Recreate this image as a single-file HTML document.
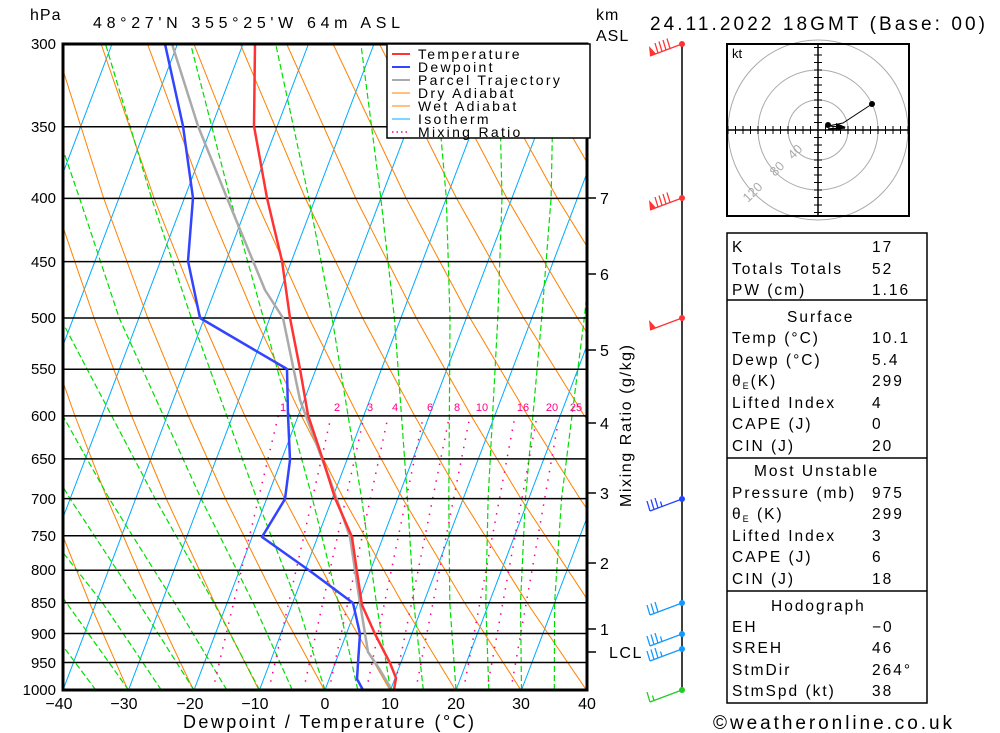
<!DOCTYPE html>
<html><head><meta charset="utf-8">
<style>
html,body{margin:0;padding:0;background:#fff;}
svg{display:block;font-family:"Liberation Sans",sans-serif;}
</style></head>
<body>
<svg width="1000" height="733" viewBox="0 0 1000 733" xmlns="http://www.w3.org/2000/svg">
<defs><clipPath id="c"><rect x="63" y="44" width="524" height="646"/></clipPath></defs>
<rect width="1000" height="733" fill="#fff"/>
<g clip-path="url(#c)" fill="none">
<g stroke="#00aaff" stroke-width="1">
<line x1="-133.5" y1="690" x2="112" y2="44"/>
<line x1="-68" y1="690" x2="177.5" y2="44"/>
<line x1="-2.5" y1="690" x2="243" y2="44"/>
<line x1="63" y1="690" x2="308.5" y2="44"/>
<line x1="128.5" y1="690" x2="374" y2="44"/>
<line x1="194" y1="690" x2="439.5" y2="44"/>
<line x1="259.5" y1="690" x2="505" y2="44"/>
<line x1="325" y1="690" x2="570.5" y2="44"/>
<line x1="390.5" y1="690" x2="636" y2="44"/>
<line x1="456" y1="690" x2="701.5" y2="44"/>
<line x1="521.5" y1="690" x2="767" y2="44"/>
</g>
<g stroke="#ff8000" stroke-width="1" transform="translate(20,0)">
<polyline points="42.4,690 7.1,603 -31,499"/>
<polyline points="107.9,690 69.6,603 28.1,499 -1.5,416"/>
<polyline points="173.4,690 132.2,603 87.3,499 55,416 20.4,318 -17.2,198"/>
<polyline points="238.9,690 194.7,603 146.4,499 111.6,416 74.1,318 33.1,198 -11.7,44"/>
<polyline points="304.4,690 257.2,603 205.6,499 168.3,416 127.8,318 83.6,198 34.7,44"/>
<polyline points="369.9,690 319.7,603 264.7,499 224.9,416 181.5,318 134,198 81.1,44"/>
<polyline points="435.4,690 382.2,603 323.8,499 281.5,416 235.2,318 184.4,198 127.5,44"/>
<polyline points="500.9,690 444.7,603 382.9,499 338.1,416 288.9,318 234.8,198 173.9,44"/>
<polyline points="566.4,690 507.2,603 442,499 394.7,416 342.6,318 285.2,198 220.3,44"/>
<polyline points="631.9,690 569.7,603 501.1,499 451.3,416 396.3,318 335.6,198 266.7,44"/>
<polyline points="697.4,690 632.2,603 560.2,499 507.9,416 450,318 386,198 313.1,44"/>
<polyline points="762.9,690 694.7,603 619.3,499 564.5,416 503.7,318 436.4,198 359.5,44"/>
<polyline points="757,603 678.4,499 621.1,416 557.4,318 486.8,198 405.9,44"/>
<polyline points="737.5,499 677.7,416 611.1,318 537.2,198 452.3,44"/>
<polyline points="734,416 664.8,318 587.6,198 498.7,44"/>
<polyline points="718.5,318 638,198 545.1,44"/>
<polyline points="688.4,198 591.5,44"/>
<polyline points="738.8,198 638,44"/>
</g>
<g stroke="#00dd00" stroke-width="1.2" stroke-dasharray="6,3">
<polyline points="554.3,690 554.6,603 561.5,499 584.3,318 597,198 603,44"/>
<polyline points="521.5,690 520.5,603 525.4,499 541.7,318 551.1,198 554.1,44"/>
<polyline points="488.8,690 485.8,603 488.1,499 497.8,318 502,198 498.5,44"/>
<polyline points="456,690 449.8,603 448.8,499 450,318 446.3,198 432.9,44"/>
<polyline points="423.3,690 413.8,603 407.5,499 394.4,318 380.8,198 360.9,44"/>
<polyline points="390.5,690 376.4,603 361.7,499 332.1,318 308.8,198 275.7,44"/>
<polyline points="357.8,690 338.4,603 312.5,499 263.4,318 230.1,198 190.6,44"/>
<polyline points="325,690 297.2,603 256.9,499 191.3,318 151.5,198 105.5,44"/>
<polyline points="292.3,690 253.3,603 201.2,499 119.2,318 79.5,198 26.8,44"/>
<polyline points="259.5,690 214,603 155.3,499 60.3,318"/>
<polyline points="226.8,690 174.7,603 109.5,499 7.9,318"/>
<polyline points="194,690 138.7,603 70.2,499 -37.6,318"/>
<polyline points="161.3,690 102.6,603 21,499"/>
<polyline points="128.5,690 66.6,603 -8,499"/>
<polyline points="95.8,690 30.6,603"/>
</g>
<g stroke="#ff0088" stroke-width="1.5" stroke-dasharray="1.5,7">
<line x1="212.8" y1="690" x2="278.2" y2="416"/>
<line x1="268.8" y1="690" x2="331.2" y2="416"/>
<line x1="303.5" y1="690" x2="364.1" y2="416"/>
<line x1="329" y1="690" x2="388.2" y2="416"/>
<line x1="366.4" y1="690" x2="423.4" y2="416"/>
<line x1="393.9" y1="690" x2="449.4" y2="416"/>
<line x1="415.7" y1="690" x2="470" y2="416"/>
<line x1="463.5" y1="690" x2="515" y2="416"/>
<line x1="486.9" y1="690" x2="537" y2="416"/>
<line x1="510.8" y1="690" x2="559.3" y2="416"/>
</g>
</g>
<g font-size="11" fill="#ff0088" text-anchor="middle">
<text x="283" y="411">1</text><text x="337" y="411">2</text><text x="370" y="411">3</text>
<text x="395" y="411">4</text><text x="430" y="411">6</text><text x="457" y="411">8</text>
<text x="482" y="411">10</text><text x="523" y="411">16</text><text x="552" y="411">20</text>
<text x="576" y="411">25</text>
</g>
<g stroke="#000" stroke-width="1.5">
<line x1="63" x2="587" y1="126.7" y2="126.7"/><line x1="63" x2="587" y1="198.4" y2="198.4"/>
<line x1="63" x2="587" y1="261.6" y2="261.6"/><line x1="63" x2="587" y1="318" y2="318"/>
<line x1="63" x2="587" y1="369.3" y2="369.3"/><line x1="63" x2="587" y1="415.9" y2="415.9"/>
<line x1="63" x2="587" y1="458.9" y2="458.9"/><line x1="63" x2="587" y1="498.6" y2="498.6"/>
<line x1="63" x2="587" y1="535.7" y2="535.7"/><line x1="63" x2="587" y1="570.3" y2="570.3"/>
<line x1="63" x2="587" y1="602.8" y2="602.8"/><line x1="63" x2="587" y1="633.5" y2="633.5"/>
<line x1="63" x2="587" y1="662.5" y2="662.5"/>
</g>
<g clip-path="url(#c)" fill="none" stroke-width="2.5" stroke-linejoin="round">
<polyline stroke="#aaaaaa" points="390,687 380,670 368,652 360,603 350,537 330,480 300,400 283,318 265,290 253,261 227,198 198,126 172,44"/>
<polyline stroke="#3344ff" points="363,690 357,679 358,663 360,634 353,603 310,571 262,537 285,499 290,460 288,415 287,369 200,318 188,261 193,198 183,126 165,44"/>
<polyline stroke="#ff3333" points="394,690 396,678 390,663 375,634 362,605 357,572 352,537 335,498 323,460 308,415 300,369 290,318 282,261 267,198 254,126 255,44"/>
</g>
<rect x="63" y="44" width="524" height="646" fill="none" stroke="#000" stroke-width="3"/>
<rect x="387" y="44" width="203" height="94" fill="#fff" stroke="#000" stroke-width="1.5"/>
<g stroke-width="2">
<line x1="392" y1="54" x2="410" y2="54" stroke="#ff3333"/>
<line x1="392" y1="67" x2="410" y2="67" stroke="#3344ff"/>
<line x1="392" y1="80" x2="410" y2="80" stroke="#aaaaaa"/>
<line x1="392" y1="93" x2="410" y2="93" stroke="#ff8000" stroke-width="1"/>
<line x1="392" y1="106" x2="410" y2="106" stroke="#ff8000" stroke-width="1"/>
<line x1="392" y1="119" x2="410" y2="119" stroke="#00aaff" stroke-width="1"/>
<line x1="392" y1="132" x2="410" y2="132" stroke="#ff0088" stroke-width="1.5" stroke-dasharray="1.5,3"/>
</g>
<g font-size="14" fill="#000" letter-spacing="2.3">
<text x="418" y="59">Temperature</text>
<text x="418" y="72">Dewpoint</text>
<text x="418" y="85">Parcel Trajectory</text>
<text x="418" y="98">Dry Adiabat</text>
<text x="418" y="111">Wet Adiabat</text>
<text x="418" y="124">Isotherm</text>
<text x="418" y="137">Mixing Ratio</text>
</g>
<g font-size="16" fill="#000">
<text x="30" y="20" letter-spacing="1">hPa</text>
<text x="93" y="28" textLength="307" lengthAdjust="spacing">48°27'N  355°25'W  64m  ASL</text>
<text x="596" y="20" letter-spacing="1">km</text>
<text x="596" y="41" letter-spacing="1">ASL</text>
<text x="650" y="30" font-size="19" textLength="335" lengthAdjust="spacing">24.11.2022  18GMT  (Base: 00)</text>
<text x="183" y="728" font-size="18" textLength="291" lengthAdjust="spacing">Dewpoint / Temperature (°C)</text>
<text x="713" y="729" font-size="19" textLength="239" lengthAdjust="spacing">©weatheronline.co.uk</text>
<text transform="translate(631,426) rotate(-90)" text-anchor="middle" font-size="16" textLength="162" lengthAdjust="spacing">Mixing Ratio (g/kg)</text>
</g>
<g font-size="15" fill="#000" text-anchor="end">
<text x="56" y="49">300</text><text x="56" y="132">350</text><text x="56" y="203">400</text>
<text x="56" y="267">450</text><text x="56" y="323">500</text><text x="56" y="374">550</text>
<text x="56" y="421">600</text><text x="56" y="464">650</text><text x="56" y="504">700</text>
<text x="56" y="541">750</text><text x="56" y="575">800</text><text x="56" y="608">850</text>
<text x="56" y="639">900</text><text x="56" y="668">950</text><text x="56" y="695">1000</text>
</g>
<g font-size="16" fill="#000" text-anchor="middle">
<text x="59" y="709">−40</text><text x="124" y="709">−30</text><text x="190" y="709">−20</text>
<text x="255" y="709">−10</text><text x="325" y="709">0</text><text x="390" y="709">10</text>
<text x="456" y="709">20</text><text x="521" y="709">30</text><text x="587" y="709">40</text>
</g>
<g stroke="#000" stroke-width="1.5">
<line x1="587" y1="198" x2="596" y2="198"/><line x1="587" y1="274" x2="596" y2="274"/>
<line x1="587" y1="350" x2="596" y2="350"/><line x1="587" y1="423" x2="596" y2="423"/>
<line x1="587" y1="493" x2="596" y2="493"/><line x1="587" y1="563" x2="596" y2="563"/>
<line x1="587" y1="629" x2="596" y2="629"/><line x1="587" y1="652" x2="596" y2="652"/>
</g>
<g font-size="16" fill="#000">
<text x="600" y="204">7</text><text x="600" y="280">6</text><text x="600" y="356">5</text>
<text x="600" y="429">4</text><text x="600" y="499">3</text><text x="600" y="569">2</text>
<text x="600" y="635">1</text><text x="609" y="658" letter-spacing="1.5">LCL</text>
</g>
<line x1="682" y1="44" x2="682" y2="690" stroke="#000" stroke-width="1.5"/>
<g stroke-width="1.3">
<g transform="translate(0,44)" stroke="#ff3333" fill="#ff3333">
<line x1="682" y1="0" x2="650" y2="12"/><circle cx="682" cy="0" r="3" stroke="none"/>
<polygon points="650,12 656,9.8 649,2" stroke="none"/>
<line x1="658" y1="9" x2="655" y2="-1"/><line x1="662" y1="7.5" x2="659" y2="-2.5"/>
<line x1="666" y1="6" x2="663" y2="-4"/><line x1="670" y1="4.5" x2="667" y2="-5.5"/>
</g>
<g transform="translate(0,198)" stroke="#ff3333" fill="#ff3333">
<line x1="682" y1="0" x2="650" y2="12"/><circle cx="682" cy="0" r="3" stroke="none"/>
<polygon points="650,12 656,9.8 649,2" stroke="none"/>
<line x1="658" y1="9" x2="655" y2="-1"/><line x1="662" y1="7.5" x2="659" y2="-2.5"/>
<line x1="666" y1="6" x2="663" y2="-4"/><line x1="670" y1="4.5" x2="667" y2="-5.5"/>
</g>
<g transform="translate(0,318)" stroke="#ff3333" fill="#ff3333">
<line x1="682" y1="0" x2="650" y2="12"/><circle cx="682" cy="0" r="3" stroke="none"/>
<polygon points="650,12 656,9.8 649,2" stroke="none"/>
</g>
<g transform="translate(0,499)" stroke="#2244ff" fill="#2244ff">
<line x1="682" y1="0" x2="650" y2="12"/><circle cx="682" cy="0" r="3" stroke="none"/>
<line x1="650" y1="12" x2="647" y2="2"/><line x1="654" y1="10.5" x2="651" y2="0.5"/>
<line x1="658" y1="9" x2="655" y2="-1"/><line x1="662" y1="7.5" x2="660.5" y2="2.5"/>
</g>
<g transform="translate(0,603)" stroke="#1199ff" fill="#1199ff">
<line x1="682" y1="0" x2="650" y2="12"/><circle cx="682" cy="0" r="3" stroke="none"/>
<line x1="650" y1="12" x2="647" y2="2"/><line x1="654" y1="10.5" x2="651" y2="0.5"/>
<line x1="658" y1="9" x2="655" y2="-1"/>
</g>
<g transform="translate(0,634)" stroke="#1199ff" fill="#1199ff">
<line x1="682" y1="0" x2="650" y2="12"/><circle cx="682" cy="0" r="3" stroke="none"/>
<line x1="650" y1="12" x2="647" y2="2"/><line x1="654" y1="10.5" x2="651" y2="0.5"/>
<line x1="658" y1="9" x2="655" y2="-1"/><line x1="662" y1="7.5" x2="660.5" y2="2.5"/>
</g>
<g transform="translate(0,649)" stroke="#1199ff" fill="#1199ff">
<line x1="682" y1="0" x2="650" y2="12"/><circle cx="682" cy="0" r="3" stroke="none"/>
<line x1="650" y1="12" x2="647" y2="2"/><line x1="654" y1="10.5" x2="651" y2="0.5"/>
<line x1="658" y1="9" x2="655" y2="-1"/><line x1="662" y1="7.5" x2="660.5" y2="2.5"/>
</g>
<g transform="translate(0,690)" stroke="#22cc22" fill="#22cc22">
<line x1="682" y1="0" x2="650" y2="12"/><circle cx="682" cy="0" r="3" stroke="none"/>
<line x1="650" y1="12" x2="647" y2="2"/><line x1="654" y1="10.5" x2="652.5" y2="5.5"/>
</g>
</g>
<rect x="727" y="44" width="182" height="172" fill="#fff" stroke="#000" stroke-width="2"/>
<g fill="none" stroke="#aaa" stroke-width="1">
<circle cx="818" cy="130" r="30"/><circle cx="818" cy="130" r="60"/><circle cx="818" cy="130" r="90"/>
</g>
<rect x="727" y="44" width="182" height="172" fill="none" stroke="#000" stroke-width="2"/>
<g font-size="13" fill="#aaa">
<text transform="translate(793,160) rotate(-45)">40</text>
<text transform="translate(775,177) rotate(-45)">80</text>
<text transform="translate(748,203) rotate(-45)">120</text>
</g>
<line x1="727" y1="130" x2="909" y2="130" stroke="#000" stroke-width="1.5"/>
<line x1="818" y1="44" x2="818" y2="216" stroke="#000" stroke-width="1.5"/>
<path stroke="#000" stroke-width="1" d="M810.5 126v8M803 126v8M795.5 126v8M788 126v8M780.5 126v8M773 126v8M765.5 126v8M758 126v8M750.5 126v8M743 126v8M735.5 126v8M728 126v8M825.5 126v8M833 126v8M840.5 126v8M848 126v8M855.5 126v8M863 126v8M870.5 126v8M878 126v8M885.5 126v8M893 126v8M900.5 126v8M908 126v8M814 122.5h8M814 115h8M814 107.5h8M814 100h8M814 92.5h8M814 85h8M814 77.5h8M814 70h8M814 62.5h8M814 55h8M814 47.5h8M814 137.5h8M814 145h8M814 152.5h8M814 160h8M814 167.5h8M814 175h8M814 182.5h8M814 190h8M814 197.5h8M814 205h8M814 212.5h8"/>
<text x="732" y="58" font-size="13">kt</text>
<polyline points="872,104 843,123 828,126 842,127" fill="none" stroke="#000" stroke-width="1"/>
<line x1="828" y1="129" x2="845" y2="128" stroke="#000" stroke-width="1.5"/>
<circle cx="872" cy="104" r="3"/><circle cx="828" cy="125" r="3"/><polygon points="836,123 846,127 836,131"/>
<rect x="727" y="233" width="200" height="470" fill="#fff" stroke="#000" stroke-width="1.5"/>
<line x1="727" y1="300" x2="927" y2="300" stroke="#000" stroke-width="1.5"/>
<line x1="727" y1="458" x2="927" y2="458" stroke="#000" stroke-width="1.5"/>
<line x1="727" y1="591" x2="927" y2="591" stroke="#000" stroke-width="1.5"/>
<g font-size="15.5" fill="#000" letter-spacing="2">
<text x="732" y="252">K</text><text x="872" y="252">17</text>
<text x="732" y="274">Totals Totals</text><text x="872" y="274">52</text>
<text x="732" y="295">PW (cm)</text><text x="872" y="295">1.16</text>
<text x="787" y="322">Surface</text>
<text x="732" y="343">Temp (°C)</text><text x="872" y="343">10.1</text>
<text x="732" y="365">Dewp (°C)</text><text x="872" y="365">5.4</text>
<text x="732" y="386">θ<tspan font-size="9" dy="3">E</tspan><tspan dy="-3">(K)</tspan></text><text x="872" y="386">299</text>
<text x="732" y="408">Lifted Index</text><text x="872" y="408">4</text>
<text x="732" y="429">CAPE (J)</text><text x="872" y="429">0</text>
<text x="732" y="451">CIN (J)</text><text x="872" y="451">20</text>
<text x="754" y="476">Most Unstable</text>
<text x="732" y="498">Pressure (mb)</text><text x="872" y="498">975</text>
<text x="732" y="519">θ<tspan font-size="9" dy="3">E</tspan><tspan dy="-3"> (K)</tspan></text><text x="872" y="519">299</text>
<text x="732" y="541">Lifted Index</text><text x="872" y="541">3</text>
<text x="732" y="562">CAPE (J)</text><text x="872" y="562">6</text>
<text x="732" y="584">CIN (J)</text><text x="872" y="584">18</text>
<text x="771" y="611">Hodograph</text>
<text x="732" y="632">EH</text><text x="872" y="632">−0</text>
<text x="732" y="653">SREH</text><text x="872" y="653">46</text>
<text x="732" y="675">StmDir</text><text x="872" y="675">264°</text>
<text x="732" y="696">StmSpd (kt)</text><text x="872" y="696">38</text>
</g>
</svg>
</body></html>
